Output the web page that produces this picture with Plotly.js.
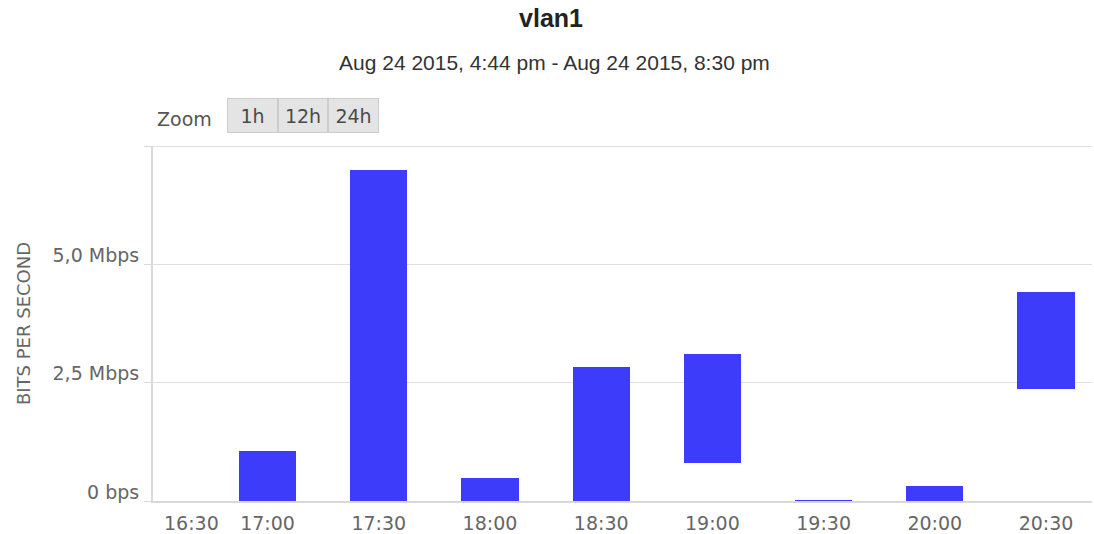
<!DOCTYPE html>
<html>
<head>
<meta charset="utf-8">
<script src="https://cdn.plot.ly/plotly-3.0.1.min.js"></script>
<style>html,body{margin:0;padding:0;background:#fff;}#chart{width:1094px;height:534px;}</style>
</head>
<body>
<div id="chart"></div>
<script>
// ---- data ----
var times = ['2015-08-24 17:00','2015-08-24 17:30','2015-08-24 18:00','2015-08-24 18:30',
             '2015-08-24 19:00','2015-08-24 19:30','2015-08-24 20:00','2015-08-24 20:30'];
var lowMbps  = [0, 0, 0, 0, 0.80, 0, 0, 2.37];
var highMbps = [1.06, 6.99, 0.48, 2.83, 3.11, 0.03, 0.32, 4.42];
var xTickVals = ['2015-08-24 17:00','2015-08-24 17:30','2015-08-24 18:00','2015-08-24 18:30',
                 '2015-08-24 19:00','2015-08-24 19:30','2015-08-24 20:00','2015-08-24 20:30'];
var xTickText = ['17:00','17:30','18:00','18:30','19:00','19:30','20:00','20:30'];
var firstTickVal = '2015-08-24 16:30';
var firstTickText = '16:30';
var yTickVals = [0, 2.5, 5, 7.5];
var yTickText = ['0 bps', '2,5 Mbps', '5,0 Mbps', ''];
var yMax = 7.5;
var zoomButtons = ['1h', '12h', '24h'];

// ---- layout constants ----
var W = 1094, H = 534, ML = 153, MR = 2, MT = 146, MB = 33;
var PW = W - ML - MR, PH = H - MT - MB;
function pxX(px){ return (px - ML) / PW; }
function pxY(py){ return (H - MB - py) / PH; }

var spans = highMbps.map(function(h, i){ return h - lowMbps[i]; });

var trace = {
  type: 'bar',
  x: times,
  y: spans,
  base: lowMbps,
  width: 924000,
  marker: {color: '#3c3cfa', line: {width: 0}},
  hoverinfo: 'x+y'
};

var grey = '#666666';
var tickFont = {family: 'DejaVu Sans, sans-serif', size: 19, color: grey};
var annotations = [
  {xref:'paper', yref:'paper', x: pxX(554), y: pxY(62), xanchor:'center', yanchor:'middle',
   text:'Aug 24 2015, 4:44 pm - Aug 24 2015, 8:30 pm', showarrow:false,
   font:{family:'Liberation Sans, Arial, sans-serif', size:21, color:'#333333'}},
  {xref:'paper', yref:'paper', x: pxX(155), y: pxY(119), xanchor:'left', yanchor:'middle',
   text:'Zoom', showarrow:false,
   font:{family:'DejaVu Sans, sans-serif', size:19, color:'#555555'}},
  {xref:'x', yref:'paper', x: firstTickVal, y: pxY(523), xanchor:'left', yanchor:'middle', xshift: 6,
   text: firstTickText, showarrow:false, font: tickFont}
];
var btnLeft = [227, 278, 328], btnRight = [278, 328, 379];
zoomButtons.forEach(function(lbl, i){
  annotations.push({
    xref:'paper', yref:'paper', x: pxX((btnLeft[i] + btnRight[i]) / 2), y: pxY(115.5),
    xanchor:'center', yanchor:'middle', text: lbl, showarrow:false,
    width: btnRight[i] - btnLeft[i] - 2, height: 33, borderpad: 0,
    bgcolor:'#e4e4e4', bordercolor:'#cccccc', borderwidth:1,
    font:{family:'DejaVu Sans, sans-serif', size:19, color:'#4a4a4a'}
  });
});

var layout = {
  width: W, height: H,
  margin: {l: ML, r: MR, t: MT, b: MB, pad: 0},
  paper_bgcolor: '#ffffff', plot_bgcolor: '#ffffff',
  showlegend: false,
  bargap: 0,
  title: {text: '<b>vlan1</b>', x: 551 / W, xanchor: 'center', y: 1 - 18 / H, yanchor: 'middle',
          font: {family: 'Liberation Sans, Arial, sans-serif', size: 25, color: '#222222'}},
  xaxis: {
    type: 'date',
    range: ['2015-08-24 16:29:06', '2015-08-24 20:42:24'],
    tickvals: xTickVals, ticktext: xTickText,
    showgrid: false, zeroline: false,
    showline: true, linecolor: '#d9d9d9', linewidth: 2,
    ticks: '', ticklabelstandoff: 4,
    tickfont: tickFont
  },
  yaxis: {
    range: [0, yMax],
    tickvals: yTickVals, ticktext: yTickText,
    showgrid: true, gridcolor: '#e0e0e0', gridwidth: 1,
    zeroline: false,
    showline: true, linecolor: '#d9d9d9', linewidth: 2,
    ticks: 'outside', ticklen: 7, tickcolor: '#d9d9d9', tickwidth: 1,
    ticklabelposition: 'outside',
    ticklabelshift: -9,
    ticklabelstandoff: 1,
    tickfont: tickFont,
    title: {text: 'BITS PER SECOND', standoff: 17,
            font: {family: 'DejaVu Sans, sans-serif', size: 18, color: grey}}
  },
  shapes: [
    {type: 'line', xref: 'paper', yref: 'y', x0: 0, x1: 1, y0: yMax, y1: yMax,
     line: {color: '#e0e0e0', width: 2}, layer: 'below'}
  ],
  annotations: annotations
};

Plotly.newPlot('chart', [trace], layout, {displayModeBar: false, staticPlot: true});
</script>
</body>
</html>
